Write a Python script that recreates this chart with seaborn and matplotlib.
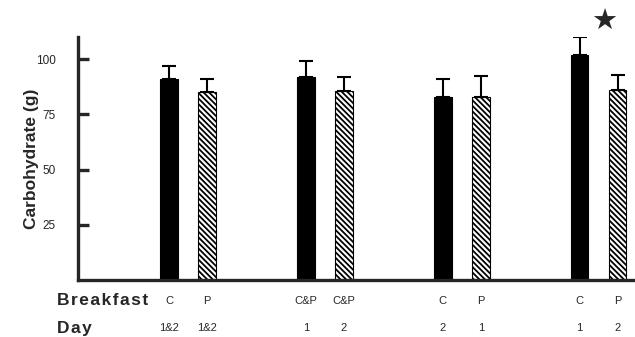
import matplotlib
matplotlib.use("Agg")
import matplotlib.pyplot as plt
import seaborn as sns
import numpy as np
import pandas as pd

# Werte
breakfast = ["C", "P", "C&P", "C&P", "C", "P", "C", "P"]
day = ["1&2", "1&2", "1", "2", "2", "1", "1", "2"]
carbs = [91, 85, 92, 85.5, 83, 83, 102, 86]
sem = [6, 6, 7, 6.5, 8, 9.5, 8, 7]
is_cereal = [True, False, True, False, True, False, True, False]
star_bar = 7  # signifikanter Unterschied

sns.set_style("ticks")
plt.rcParams['font.family'] = ['Liberation Sans', 'DejaVu Sans']
plt.rcParams['hatch.linewidth'] = 1.3

# Positionen: 4 Gruppen zu je 2 Balken
group_gap = 3.6
xpos = [(i // 2) * group_gap + (i % 2) for i in range(len(carbs))]

df = pd.DataFrame({"x": xpos, "carbs": carbs, "sem": sem})

fig = plt.figure(figsize=(6.35, 3.37), dpi=100)
ax = fig.add_axes([0.123, 0.169, 0.877, 0.721])

sns.barplot(data=df, x="x", y="carbs", native_scale=True, width=0.47,
            color="black", edgecolor="black", linewidth=0.8, ax=ax, errorbar=None)

for patch, cereal in zip(ax.patches, is_cereal):
    if not cereal:
        patch.set_facecolor("white")
        patch.set_hatch("\\\\\\\\\\\\")

ax.errorbar(df["x"], df["carbs"], yerr=[np.zeros(len(sem)), df["sem"]],
            fmt="none", ecolor="black", elinewidth=1.5, capsize=5, capthick=1.5)

ax.set_xlim(-2.4, 12.26)
ax.set_ylim(0, 110)
ax.set_yticks([25, 50, 75, 100])
ax.set_xticks([])
ax.set_xlabel("")
ax.tick_params(axis="y", direction="in", length=8, width=2.4, labelsize=8.5, pad=16)
for s in ["top", "right"]:
    ax.spines[s].set_visible(False)
ax.spines["left"].set_linewidth(2.4)
ax.spines["bottom"].set_linewidth(2.4)

ax.set_ylabel("Carbohydrate (g)", fontsize=12.5, fontweight="bold", labelpad=-2)

# Beschriftungen unter der Achse
trans = ax.get_xaxis_transform()
for x, b, d in zip(xpos, breakfast, day):
    ax.text(x, -0.086, b, transform=trans, ha="center", va="center", fontsize=8)
    ax.text(x, -0.198, d, transform=trans, ha="center", va="center", fontsize=8)
hs = "\u200a"
ax.text(-2.95, -0.086, hs.join("Breakfast"), transform=trans, ha="left", va="center",
        fontsize=12.5, fontweight="bold")
ax.text(-2.95, -0.198, hs.join("Day"), transform=trans, ha="left", va="center",
        fontsize=12.5, fontweight="bold")

ax.text(xpos[star_bar] - 0.34, 117, "★", ha="center", va="center", fontsize=21,
        family=["DejaVu Sans"], clip_on=False)

fig.savefig("out.png", dpi=100)
